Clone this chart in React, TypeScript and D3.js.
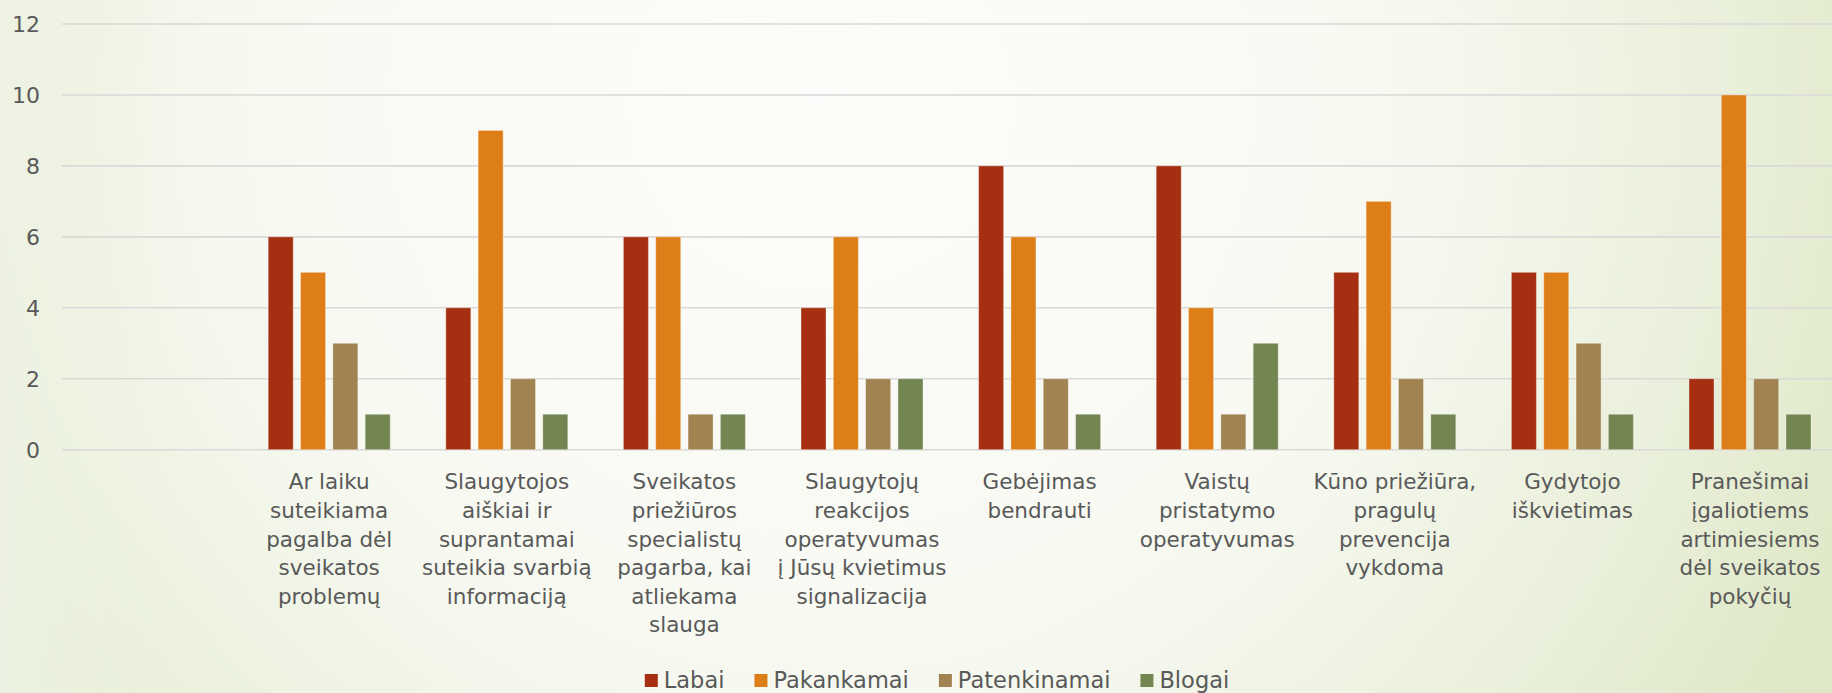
import React, { useEffect, useRef } from 'react';
import * as d3 from 'd3';

// chart data
const categories = [
  '',
  'Ar laiku\nsuteikiama\npagalba dėl\nsveikatos\nproblemų',
  'Slaugytojos\naiškiai ir\nsuprantamai\nsuteikia svarbią\ninformaciją',
  'Sveikatos\npriežiūros\nspecialistų\npagarba, kai\natliekama\nslauga',
  'Slaugytojų\nreakcijos\noperatyvumas\nį Jūsų kvietimus\nsignalizacija',
  'Gebėjimas\nbendrauti',
  'Vaistų\npristatymo\noperatyvumas',
  'Kūno priežiūra,\npragulų\nprevencija\nvykdoma',
  'Gydytojo\niškvietimas',
  'Pranešimai\nįgaliotiems\nartimiesiems\ndėl sveikatos\npokyčių',
];
const seriesNames = ['Labai', 'Pakankamai', 'Patenkinamai', 'Blogai'];
const labai = [null, 6, 4, 6, 4, 8, 8, 5, 5, 2];
const pakankamai = [null, 5, 9, 6, 6, 6, 4, 7, 5, 10];
const patenkinamai = [null, 3, 2, 1, 2, 2, 1, 2, 3, 2];
const blogai = [null, 1, 1, 1, 2, 1, 3, 1, 1, 1];
const yTicks = [0, 2, 4, 6, 8, 10, 12];

const colors = ['#A52F10', '#DE7E18', '#A08350', '#738652'];
const textColor = '#595959';
const font = '"DejaVu Sans", sans-serif';

export default function App() {
  const ref = useRef<SVGSVGElement>(null);

  useEffect(() => {
    document.body.style.margin = '0';
    const W = 1832;
    const H = 693;
    const svg = d3.select(ref.current);
    svg.selectAll('*').remove();

    // background
    const defs = svg.append('defs');
    const rg = defs.append('radialGradient')
      .attr('id', 'bg')
      .attr('gradientUnits', 'userSpaceOnUse')
      .attr('cx', 820).attr('cy', 100).attr('r', 1150);
    rg.append('stop').attr('offset', 0).attr('stop-color', '#FDFDFB');
    rg.append('stop').attr('offset', 0.5).attr('stop-color', '#F7F9F1');
    rg.append('stop').attr('offset', 0.78).attr('stop-color', '#EAF0DB');
    rg.append('stop').attr('offset', 1).attr('stop-color', '#DEE7C6');
    const lg = defs.append('linearGradient').attr('id', 'edge')
      .attr('x1', 0).attr('x2', 1).attr('y1', 0).attr('y2', 0);
    lg.append('stop').attr('offset', 0).attr('stop-color', '#EDF2E2').attr('stop-opacity', 1);
    lg.append('stop').attr('offset', 1).attr('stop-color', '#EDF2E2').attr('stop-opacity', 0);

    svg.append('rect').attr('width', W).attr('height', H).attr('fill', 'url(#bg)');
    svg.append('rect').attr('width', 160).attr('height', H).attr('fill', 'url(#edge)');

    const x0 = d3.scaleBand<string>()
      .domain(categories.map((_, i) => String(i)))
      .range([62.8, 1838.8])
      .paddingInner(0.313)
      .paddingOuter(0.1565);
    const x1 = d3.scaleBand<string>()
      .domain(seriesNames)
      .range([0, x0.bandwidth()])
      .paddingInner(0.226);
    const y = d3.scaleLinear().domain([0, 12]).range([449.7, 24]);

    // grid
    svg.append('g').selectAll('line').data(yTicks).join('line')
      .attr('x1', 62).attr('x2', W)
      .attr('y1', d => y(d)).attr('y2', d => y(d))
      .attr('stroke', '#D9D9D9').attr('stroke-width', 1.6);

    // y tick labels
    svg.append('g').selectAll('text').data(yTicks).join('text')
      .attr('x', 40).attr('y', d => y(d))
      .attr('dy', '0.36em')
      .attr('text-anchor', 'end')
      .attr('font-family', font).attr('font-size', 22)
      .attr('fill', textColor)
      .text(d => d);

    // bars
    const series = [labai, pakankamai, patenkinamai, blogai];
    series.forEach((vals, s) => {
      svg.append('g').selectAll('rect')
        .data(vals.map((v, i) => ({ v, i })).filter(d => d.v != null))
        .join('rect')
        .attr('x', d => (x0(String(d.i)) as number) + (x1(seriesNames[s]) as number))
        .attr('width', x1.bandwidth())
        .attr('y', d => y(d.v as number))
        .attr('height', d => y(0) - y(d.v as number))
        .attr('fill', colors[s])
        .attr('stroke', 'rgba(255,255,255,0.35)')
        .attr('stroke-width', 1);
    });

    // category labels
    const cat = svg.append('g').selectAll('text').data(categories).join('text')
      .attr('x', (_, i) => (x0(String(i)) as number) + x0.bandwidth() / 2)
      .attr('y', 489.3)
      .attr('text-anchor', 'middle')
      .attr('font-family', font).attr('font-size', 21.5)
      .attr('fill', textColor);
    cat.each(function (d) {
      const t = d3.select(this);
      const xx = t.attr('x');
      d.split('\n').forEach((line, k) => {
        t.append('tspan').attr('x', xx).attr('dy', k === 0 ? 0 : 28.6).text(line);
      });
    });

    // legend
    const leg = svg.append('g');
    const items = seriesNames.map((name, s) => {
      const g = leg.append('g');
      g.append('rect').attr('width', 13).attr('height', 13).attr('y', 674).attr('fill', colors[s]);
      const t = g.append('text').attr('x', 19).attr('y', 687.5)
        .attr('font-family', font).attr('font-size', 22.5)
        .attr('fill', textColor).text(name);
      const w = (t.node() as SVGTextElement).getComputedTextLength();
      return { g, w: 19 + w };
    });
    const gap = 30;
    const total = d3.sum(items, d => d.w) + gap * (items.length - 1);
    let cx = 937 - total / 2;
    items.forEach(it => {
      it.g.attr('transform', `translate(${cx},0)`);
      cx += it.w + gap;
    });
  }, []);

  return <svg ref={ref} width={1832} height={693} style={{ display: 'block' }} />;
}
